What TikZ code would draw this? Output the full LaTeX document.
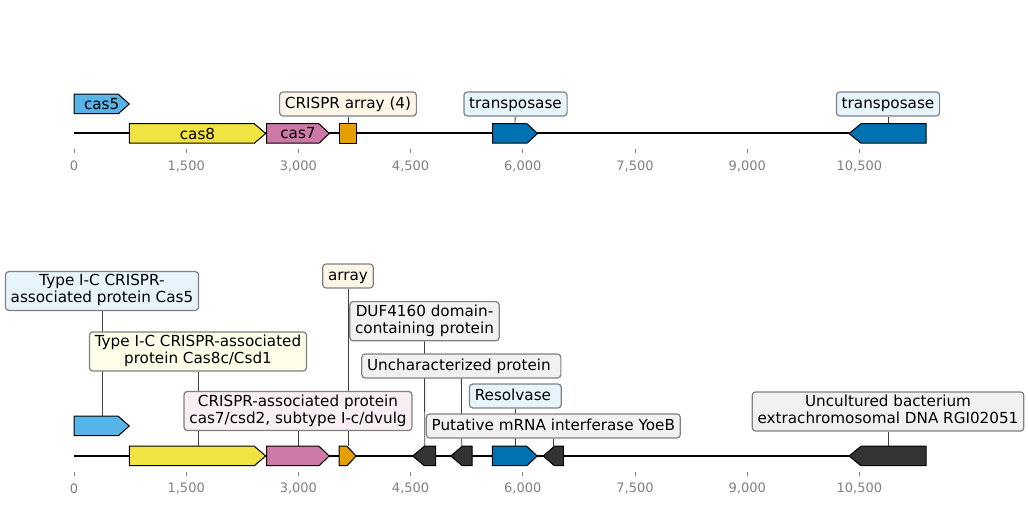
\documentclass[tikz,border=0pt]{standalone}
\usepackage{fontspec}
\setmainfont{DejaVu Sans}
\usetikzlibrary{backgrounds}
\definecolor{cfive}{RGB}{86,180,233}
\definecolor{ceight}{RGB}{240,228,66}
\definecolor{cseven}{RGB}{204,121,167}
\definecolor{carr}{RGB}{230,159,0}
\definecolor{cblue}{RGB}{0,114,178}
\definecolor{cdark}{RGB}{51,51,51}
\definecolor{lfive}{RGB}{232,244,252}
\definecolor{leight}{RGB}{253,253,232}
\definecolor{lseven}{RGB}{248,238,243}
\definecolor{larr}{RGB}{253,246,230}
\definecolor{lblue}{RGB}{230,244,252}
\definecolor{lgray}{RGB}{241,241,241}
\newcommand{\lblstrut}{\vrule width 0pt height 10.05pt depth 3.25pt}
\tikzset{
  gene/.style={draw=black, line width=0.75pt},
  lbl/.style={draw=gray, line width=0.9pt, rounded corners=2.5pt, align=center,
    font=\fontsize{11.4}{12.75}\selectfont, inner xsep=4pt, inner ysep=2.35pt,
    execute at begin node={\lblstrut}, execute at end node={\lblstrut}},
  inl/.style={font=\fontsize{11.4}{12.75}\selectfont, inner sep=0pt},
  conn/.style={draw=black!75, line width=0.6pt},
  tck/.style={draw=gray, line width=0.6pt},
  tcklbl/.style={text=gray, font=\fontsize{9.75}{11}\selectfont, inner sep=0pt},
  backbone/.style={draw=black, line width=1.5pt}
}
\begin{document}
\begin{tikzpicture}[x=0.75pt,y=0.75pt,yscale=-1]
\useasboundingbox (0,0) rectangle (1028,505);

%Straight Lines [backbones]
\draw [backbone] (74,133.5) -- (926,133.5) ;
\draw [backbone] (74,456) -- (926,456) ;

%Ticks and tick labels
\foreach \yb/\tr in {133.5/a,456/b}{
  \foreach \xt/\lab [count=\i] in {74/0,186.2/{1,500},298.4/{3,000},410.6/{4,500},522.8/{6,000},635/{7,500},747.2/{9,000},859.4/{10,500}}{
    \draw [tck] (\xt,\yb+16) -- (\xt,\yb+20) ;
    \node (tick\tr\i) [tcklbl] at (\xt,\yb+32.5) {\lab};
  }
}

%Shape: Arrow [top cas5]
\draw [gene, fill=cfive] (74,94.25) -- (118.3,94.25) -- (129.3,104) -- (118.3,113.75) -- (74,113.75) -- cycle ;
%Shape: Arrow [top cas8]
\draw [gene, fill=ceight] (129.3,123.75) -- (254.3,123.75) -- (265.7,133.5) -- (254.3,143.25) -- (129.3,143.25) -- cycle ;
%Shape: Arrow [top cas7]
\draw [gene, fill=cseven] (266.7,123.75) -- (319,123.75) -- (329.3,133.5) -- (319,143.25) -- (266.7,143.25) -- cycle ;
%Shape: Rectangle [top array]
\draw [gene, fill=carr] (339,123.75) -- (356.3,123.75) -- (356.3,143.25) -- (339,143.25) -- cycle ;
%Shape: Arrow [top transposase 1]
\draw [gene, fill=cblue] (492.5,123.75) -- (527,123.75) -- (537.5,133.5) -- (527,143.25) -- (492.5,143.25) -- cycle ;
%Shape: Arrow [top transposase 2]
\draw [gene, fill=cblue] (926,123.75) -- (861,123.75) -- (849,133.5) -- (861,143.25) -- (926,143.25) -- cycle ;

\coordinate (tarr) at (348,123.75);
\coordinate (ttrone) at (515,123.75);
\coordinate (ttrtwo) at (888,123.75);

% Text Node
\node (tcasfive) [inl] at (101.7,104) {cas5};
% Text Node
\node (tcaseight) [inl] at (197.5,133.5) {cas8};
% Text Node
\node (tcasseven) [inl] at (298,133.5) {cas7};

% Label Nodes [top]
\node (ltarr) [lbl, fill=larr] at (348,104) {CRISPR array (4)};
\node (lttrone) [lbl, fill=lblue] at (515.5,104) {transposase};
\node (lttrtwo) [lbl, fill=lblue] at (888,104) {transposase};

%Shape: Arrow [bottom cas5]
\draw [gene, fill=cfive] (74,416.25) -- (118.3,416.25) -- (129.3,426) -- (118.3,435.75) -- (74,435.75) -- cycle ;
%Shape: Arrow [bottom cas8]
\draw [gene, fill=ceight] (129.3,446.25) -- (254.3,446.25) -- (265.7,456) -- (254.3,465.75) -- (129.3,465.75) -- cycle ;
%Shape: Arrow [bottom cas7]
\draw [gene, fill=cseven] (266.7,446.25) -- (319,446.25) -- (329.3,456) -- (319,465.75) -- (266.7,465.75) -- cycle ;
%Shape: Arrow [bottom array]
\draw [gene, fill=carr] (339,446.25) -- (347,446.25) -- (356,456) -- (347,465.75) -- (339,465.75) -- cycle ;
%Shape: Arrow [bottom DUF4160]
\draw [gene, fill=cdark] (435.7,446.25) -- (424.3,446.25) -- (412.7,456) -- (424.3,465.75) -- (435.7,465.75) -- cycle ;
%Shape: Arrow [bottom uncharacterized]
\draw [gene, fill=cdark] (472,446.25) -- (462.3,446.25) -- (450.7,456) -- (462.3,465.75) -- (472,465.75) -- cycle ;
%Shape: Arrow [bottom resolvase]
\draw [gene, fill=cblue] (492.3,446.25) -- (526.7,446.25) -- (537.3,456) -- (526.7,465.75) -- (492.3,465.75) -- cycle ;
%Shape: Arrow [bottom YoeB]
\draw [gene, fill=cdark] (563.3,446.25) -- (554.3,446.25) -- (543.3,456) -- (554.3,465.75) -- (563.3,465.75) -- cycle ;
%Shape: Arrow [bottom RGI02051]
\draw [gene, fill=cdark] (926,446.25) -- (861,446.25) -- (849,456) -- (861,465.75) -- (926,465.75) -- cycle ;

\coordinate (bcasfive) at (102,416.25);
\coordinate (bcaseight) at (198,446.25);
\coordinate (bcasseven) at (298,446.25);
\coordinate (barr) at (348,446.25);
\coordinate (bduf) at (424.7,446.25);
\coordinate (bunch) at (461.7,446.25);
\coordinate (bres) at (515.3,446.25);
\coordinate (byoeb) at (553.3,446.25);
\coordinate (bunc) at (888,446.25);

% Label Nodes [bottom]
\node (lbcasfive) [lbl, fill=lfive] at (102,291) {Type I-C CRISPR-\\associated protein Cas5};
\node (lbcaseight) [lbl, fill=leight] at (198,351.5) {Type I-C CRISPR-associated\\protein Cas8c/Csd1};
\node (lbcasseven) [lbl, fill=lseven] at (298,411) {CRISPR-associated protein\\cas7/csd2, subtype I-c/dvulg};
\node (lbarr) [lbl, fill=larr] at (348,276) {array};
\node (lbduf) [lbl, fill=lgray] at (424.5,321.2) {DUF4160 domain-\\containing protein};
\node (lbunch) [lbl, fill=lgray] at (461.3,366) {Uncharacterized protein\ };
\node (lbres) [lbl, fill=lblue] at (515.3,396) {Resolvase\ };
\node (lbyoeb) [lbl, fill=lgray] at (553.3,426) {Putative mRNA interferase YoeB};
\node (lbunc) [lbl, fill=lgray] at (888,411.5) {Uncultured bacterium\\extrachromosomal DNA RGI02051};

% Connectors
\begin{pgfonlayer}{background}
\draw [conn] (ltarr) -- (tarr) ;
\draw [conn] (lttrone) -- (ttrone) ;
\draw [conn] (lttrtwo) -- (ttrtwo) ;
\draw [conn] (lbcasfive) -- (bcasfive) ;
\draw [conn] (lbcaseight) -- (bcaseight) ;
\draw [conn] (lbcasseven) -- (bcasseven) ;
\draw [conn] (lbarr) -- (barr) ;
\draw [conn] (lbduf) -- (bduf) ;
\draw [conn] (lbunch) -- (bunch) ;
\draw [conn] (lbres) -- (bres) ;
\draw [conn] (lbyoeb) -- (byoeb) ;
\draw [conn] (lbunc) -- (bunc) ;
\end{pgfonlayer}

\end{tikzpicture}
\end{document}
